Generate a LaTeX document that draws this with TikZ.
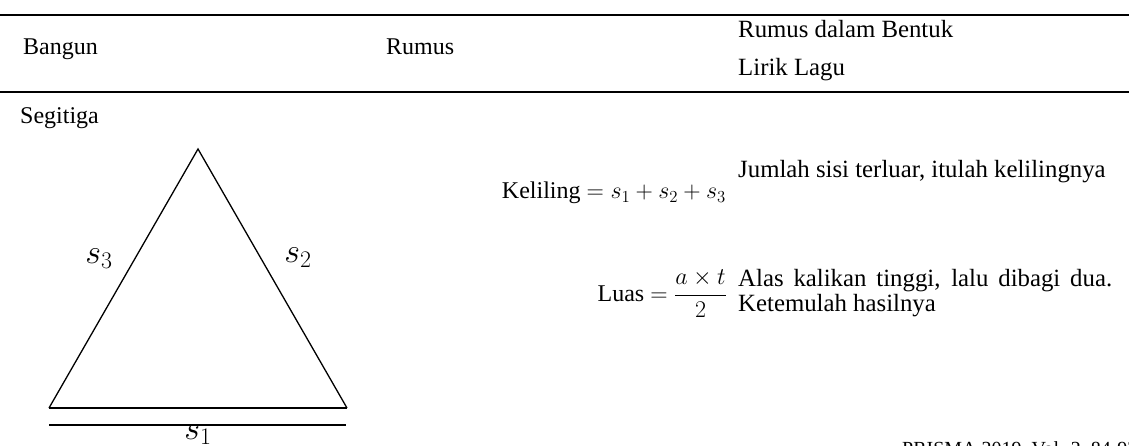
\documentclass[tikz,border=0pt]{standalone}
\usepackage{fix-cm}
\usepackage{fontspec}
\setmainfont{Liberation Serif}
\tikzset{
  txt/.style={inner sep=0pt, font=\fontsize{24}{28}\selectfont},
  lyr/.style={inner sep=0pt, font=\fontsize{24.8}{28}\selectfont},
  frm/.style={inner sep=0pt, font=\fontsize{24}{28}\selectfont},
  lbl/.style={inner sep=0pt, font=\fontsize{34}{40}\selectfont},
  foot/.style={inner sep=0pt, font=\fontsize{20}{24}\selectfont},
  rulebar/.style={line width=2.2pt},
  side/.style={line width=1.3pt, line join=miter},
  basebar/.style={line width=2pt},
  uline/.style={line width=1.3pt}
}
\begin{document}
\begin{tikzpicture}[x=1pt,y=-1pt]
\useasboundingbox (0,0) rectangle (1129,446);
\clip (0,0) rectangle (1129,446);
% table rules
\coordinate (r1l) at (0,15); \coordinate (r1r) at (1129,15);
\coordinate (r2l) at (0,92); \coordinate (r2r) at (1129,92);
\draw[rulebar] (r1l) -- (r1r);
\draw[rulebar] (r2l) -- (r2r);
% header
\node[txt, anchor=base west] (bangun) at (23,55) {Bangun};
\node[txt, anchor=base west] (rumus) at (386,55) {Rumus};
\node[lyr, anchor=base west] (h3a) at (738,38) {Rumus dalam Bentuk};
\node[lyr, anchor=base west] (h3b) at (738,76) {Lirik Lagu};
% row
\node[txt, anchor=base west] (seg) at (20,124) {Segitiga};
% triangle
\coordinate (A) at (198,149);
\coordinate (B) at (49,408);
\coordinate (C) at (347,408);
\draw[side] (B) -- (A) -- (C);
\draw[basebar] (B) -- (C);
\coordinate (u1) at (49,425); \coordinate (u2) at (346,425);
\draw[uline] (u1) -- (u2);
\node[lbl] (s3) at (99,259) {$s_3$};
\node[lbl] (s2) at (298,258) {$s_2$};
\node[lbl, anchor=north] (s1) at (198,425) {$s_1$};
% formulas
\node[frm, anchor=base east] (kel) at (726,199) {Keliling $= s_1 + s_2 + s_3$};
\node[frm, anchor=base east] (luas) at (727,301) {Luas $=\displaystyle\frac{a\times t}{2}$};
% lyrics
\node[lyr, anchor=base west] (jml) at (738,178) {Jumlah sisi terluar, itulah kelilingnya};
\node[lyr, anchor=base west] (alas) at (738,287) {\makebox[374pt][s]{Alas kalikan tinggi, lalu dibagi dua.}};
\node[lyr, anchor=base west] (ket) at (738,311) {Ketemulah hasilnya};
% footer
\node[foot, anchor=base west] (foot) at (902,455) {PRISMA 2019, Vol. 2, 84-92};
\end{tikzpicture}
\end{document}
